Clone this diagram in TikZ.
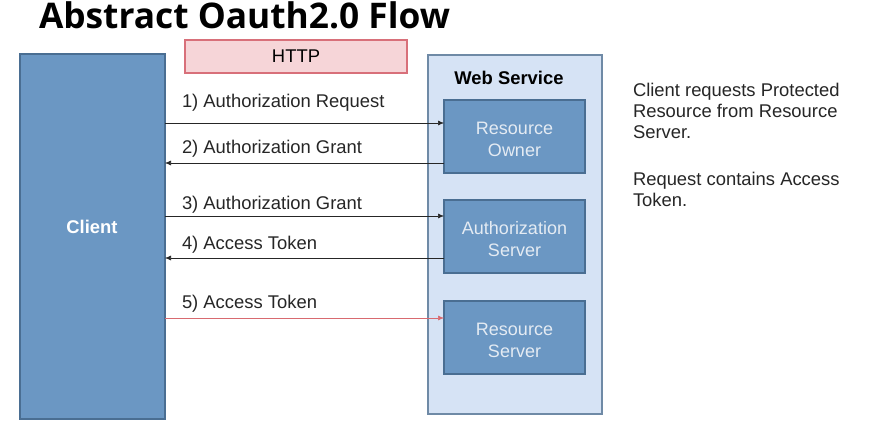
\documentclass[tikz,border=0pt]{standalone}
\usepackage{fontspec}
\setmainfont{Liberation Sans}
\newfontfamily\titlefont{Open Sans}
\usetikzlibrary{arrows.meta}
\definecolor{clientfill}{HTML}{6B97C3}
\definecolor{clientdraw}{HTML}{4A6E92}
\definecolor{wsfill}{HTML}{D6E3F5}
\definecolor{wsdraw}{HTML}{6F8AA6}
\definecolor{httpfill}{HTML}{F6D5D8}
\definecolor{httpdraw}{HTML}{D8707A}
\definecolor{boxtext}{HTML}{E4EBF3}
\definecolor{redarrow}{HTML}{D86A70}
\tikzset{
  every node/.style={inner sep=0pt, outer sep=0pt},
  bluebox/.style={draw=clientdraw, fill=clientfill, line width=1.3pt, minimum width=141pt, minimum height=73pt, anchor=north west},
  boxlbl/.style={text=boxtext, font=\fontsize{18}{22}\selectfont, align=center, yshift=-2.5pt},
  lbl/.style={anchor=base west, font=\fontsize{18.4}{21}\selectfont, text=black!85},
  flow/.style={line width=0.6pt, -{Latex[length=6pt,width=5pt]}, black!85},
}
\begin{document}
\begin{tikzpicture}[x=1pt,y=-1pt]
\useasboundingbox (0,0) rectangle (884,433);
\fill[white] (0,0) rectangle (884,433);
% title
\node[anchor=base west, font=\titlefont\bfseries\fontsize{35.3}{40}\selectfont] (title) at (39,29) {Abstract Oauth2.0 Flow};
% HTTP
\node[draw=httpdraw, fill=httpfill, line width=1.3pt, minimum width=222pt, minimum height=33pt, anchor=north west, font=\fontsize{18.4}{21}\selectfont] (http) at (185,40) {HTTP};
% client
\node[draw=clientdraw, fill=clientfill, line width=1.3pt, minimum width=145pt, minimum height=365pt, anchor=north west] (client) at (20,54) {};
\node[text=white, font=\bfseries\fontsize{18.4}{21}\selectfont] (clientlbl) at (92,227) {Client};
% web service
\node[draw=wsdraw, fill=wsfill, line width=1.3pt, minimum width=174pt, minimum height=359pt, anchor=north west] (ws) at (428,55) {};
\node[font=\bfseries\fontsize{18.4}{21}\selectfont, anchor=base] (wslbl) at (509,85) {Web Service};
\node[bluebox] (ro) at (444,100) {};
\node[boxlbl] (rolbl) at (ro.center) {Resource\\Owner};
\node[bluebox] (as) at (444,200) {};
\node[boxlbl] (aslbl) at (as.center) {Authorization\\Server};
\node[bluebox] (rs) at (444,301) {};
\node[boxlbl] (rslbl) at (rs.center) {Resource\\Server};
% arrows
\coordinate (c1) at (165,123); \coordinate (r1) at (444,123);
\coordinate (c2) at (165,163); \coordinate (r2) at (444,163);
\coordinate (c3) at (165,216); \coordinate (r3) at (444,216);
\coordinate (c4) at (165,258); \coordinate (r4) at (444,258);
\coordinate (c5) at (165,318); \coordinate (r5) at (444,318);
\draw[flow] (c1) -- (r1);
\draw[flow] (r2) -- (c2);
\draw[flow] (c3) -- (r3);
\draw[flow] (r4) -- (c4);
\draw[flow, redarrow] (c5) -- (r5);
\node[lbl] (l1) at (182,108) {1) Authorization Request};
\node[lbl] (l2) at (182,154) {2) Authorization Grant};
\node[lbl] (l3) at (182,209) {3) Authorization Grant};
\node[lbl] (l4) at (182,249) {4) Access Token};
\node[lbl] (l5) at (182,308) {5) Access Token};
% notes
\node[anchor=north west, align=left, font=\fontsize{18.4}{21}\selectfont, text=black!85] (note) at (633,83) {Client requests Protected\\Resource from Resource\\Server.\\[26pt]Request contains Access\\Token.};
\end{tikzpicture}
\end{document}
